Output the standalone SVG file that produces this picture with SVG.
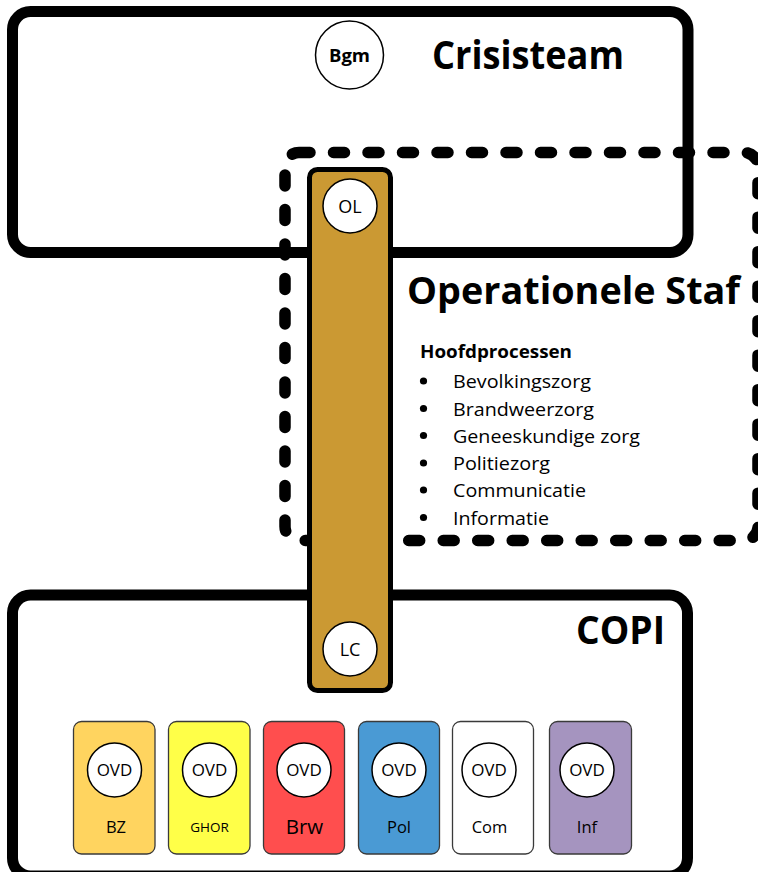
<svg xmlns="http://www.w3.org/2000/svg" width="758" height="872" viewBox="0 0 758 872">
<style>
.box{fill:#fff;stroke:#000;stroke-width:11}
.dash{fill:none;stroke:#000;stroke-width:11.5;stroke-dasharray:11 23.5;stroke-linecap:round}
.circ{fill:#fff;stroke:#000;stroke-width:1.5}
.card{stroke:#3a3a3a;stroke-width:1.3}
text{font-family:"Open Sans","Liberation Sans",sans-serif;fill:#000}
.title{font-weight:bold;font-size:40px}
.ct{font-size:17px;text-anchor:middle}
.li{font-size:18.5px}
.lbl{font-size:16.5px;text-anchor:middle}
</style>
<rect width="758" height="872" fill="#fff"/>
<g id="crisisteam">
<rect class="box" x="12.5" y="11.5" width="675.5" height="241" rx="18"/>
<text class="title" x="432" y="69" textLength="192" lengthAdjust="spacingAndGlyphs">Crisisteam</text>
</g>
<g id="operationele-staf">
<rect class="dash" x="285" y="152.5" width="473" height="388" rx="14"/>
<text class="title" x="407" y="304" style="font-size:37px" textLength="333" lengthAdjust="spacingAndGlyphs">Operationele Staf</text>
<text x="420" y="358" font-weight="bold" style="font-size:18px" textLength="152" lengthAdjust="spacingAndGlyphs">Hoofdprocessen</text>
<g fill="#000">
<circle cx="423.5" cy="381" r="3.6"/>
<circle cx="423.5" cy="408.5" r="3.6"/>
<circle cx="423.5" cy="435.5" r="3.6"/>
<circle cx="423.5" cy="463" r="3.6"/>
<circle cx="423.5" cy="490" r="3.6"/>
<circle cx="423.5" cy="517.5" r="3.6"/>
</g>
<text class="li" x="453" y="388" textLength="138" lengthAdjust="spacingAndGlyphs">Bevolkingszorg</text>
<text class="li" x="453" y="415.5" textLength="141" lengthAdjust="spacingAndGlyphs">Brandweerzorg</text>
<text class="li" x="453" y="442.5" textLength="187" lengthAdjust="spacingAndGlyphs">Geneeskundige zorg</text>
<text class="li" x="453" y="470" textLength="97" lengthAdjust="spacingAndGlyphs">Politiezorg</text>
<text class="li" x="453" y="497" textLength="133" lengthAdjust="spacingAndGlyphs">Communicatie</text>
<text class="li" x="453" y="524.5" textLength="96" lengthAdjust="spacingAndGlyphs">Informatie</text>
</g>
<g id="copi">
<rect class="box" x="12.5" y="595" width="675" height="281" rx="18"/>
<text class="title" x="576" y="644" textLength="89" lengthAdjust="spacingAndGlyphs">COPI</text>
</g>
<g id="bar">
<rect x="309.5" y="169.5" width="81" height="521" rx="8" fill="#CB9933" stroke="#000" stroke-width="5"/>
</g>
<g id="bgm">
<circle class="circ" cx="349.5" cy="55" r="34"/>
<text x="349.5" y="61.5" text-anchor="middle" font-weight="bold" style="font-size:18.5px">Bgm</text>
</g>
<g id="ol">
<circle class="circ" cx="350" cy="206" r="27"/>
<text class="ct" x="350" y="212.5" style="font-size:18px">OL</text>
</g>
<g id="lc">
<circle class="circ" cx="350" cy="649" r="27"/>
<text class="ct" x="350" y="655.5" style="font-size:18px">LC</text>
</g>
<g id="bz">
<rect class="card" x="73.5" y="721.5" width="81.5" height="132.5" rx="8" fill="#FFD45F"/>
<circle class="circ" cx="114.5" cy="770" r="27"/>
<text class="ct" x="114.5" y="776">OVD</text>
<text class="lbl" x="116" y="832.5">BZ</text>
</g>
<g id="ghor">
<rect class="card" x="168.5" y="721.5" width="81.5" height="132.5" rx="8" fill="#FFFF48"/>
<circle class="circ" cx="209.5" cy="770" r="27"/>
<text class="ct" x="209.5" y="776">OVD</text>
<text class="lbl" x="209.5" y="832" style="font-size:13.5px">GHOR</text>
</g>
<g id="brw">
<rect class="card" x="263.5" y="721.5" width="81" height="132.5" rx="8" fill="#FF4E4E"/>
<circle class="circ" cx="304" cy="770" r="27"/>
<text class="ct" x="304" y="776">OVD</text>
<text class="lbl" x="304.5" y="833.5" style="font-size:20.5px">Brw</text>
</g>
<g id="pol">
<rect class="card" x="358.5" y="721.5" width="81" height="132.5" rx="8" fill="#4A9AD4"/>
<circle class="circ" cx="399" cy="770" r="27"/>
<text class="ct" x="399" y="776">OVD</text>
<text class="lbl" x="399" y="832.5">Pol</text>
</g>
<g id="com">
<rect class="card" x="452.5" y="721.5" width="81" height="132.5" rx="8" fill="#FFFFFF"/>
<circle class="circ" cx="489" cy="770" r="27"/>
<text class="ct" x="489" y="776">OVD</text>
<text class="lbl" x="489.5" y="832.5">Com</text>
</g>
<g id="inf">
<rect class="card" x="549.5" y="721.5" width="82" height="132.5" rx="8" fill="#A594BF"/>
<circle class="circ" cx="587" cy="770" r="27"/>
<text class="ct" x="587" y="776">OVD</text>
<text class="lbl" x="587" y="832.5">Inf</text>
</g>
<g id="connectors"/>
</svg>
